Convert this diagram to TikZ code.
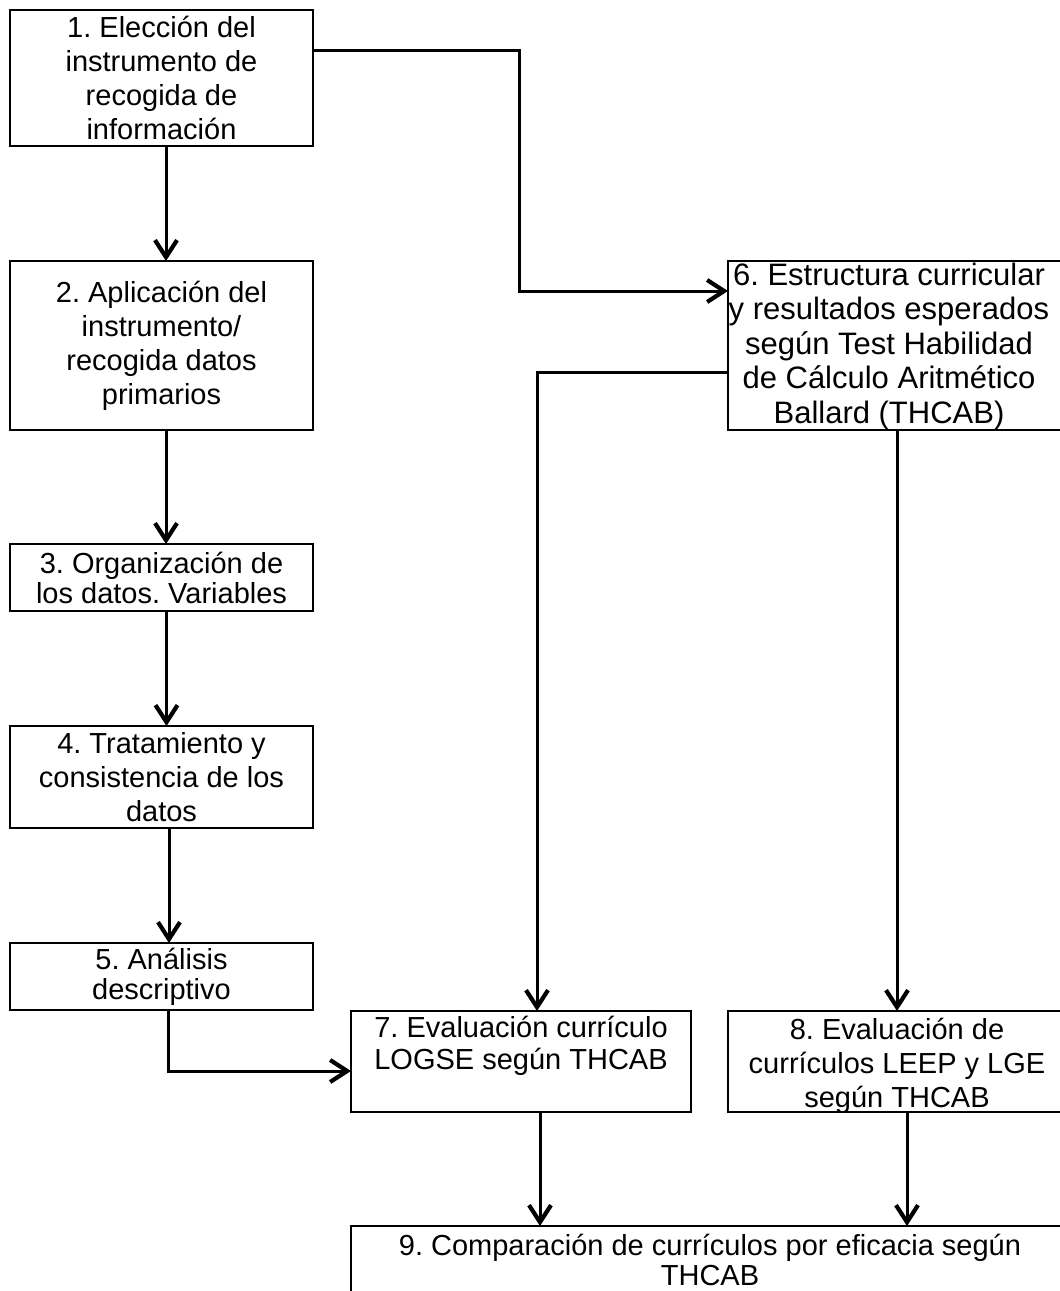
\documentclass[tikz,border=0pt]{standalone}
\usepackage{fontspec}
\setmainfont{Liberation Sans}
\usetikzlibrary{arrows.meta}
\begin{document}
\frenchspacing
\begin{tikzpicture}[x=1pt,y=-1pt,
  box/.style={draw=black,line width=1.3pt,inner sep=0pt,outer sep=0pt},
  txt/.style={inner sep=0pt,align=center,font=\fontsize{29}{34}\selectfont},
  conn/.style={line width=3pt,-{Straight Barb[length=17pt,width=22pt,line width=4.2pt]}}]
\useasboundingbox (0,0) rectangle (1060,1291);
\clip (0,0) rectangle (1060,1291);
% boxes
\node[box,minimum width=303pt,minimum height=136pt] (b1) at (161.5,78) {};
\node[box,minimum width=303pt,minimum height=169pt] (b2) at (161.5,345.5) {};
\node[box,minimum width=303pt,minimum height=67pt] (b3) at (161.5,577.5) {};
\node[box,minimum width=303pt,minimum height=102pt] (b4) at (161.5,777) {};
\node[box,minimum width=303pt,minimum height=67pt] (b5) at (161.5,976.5) {};
\node[box,minimum width=347pt,minimum height=169pt] (b6) at (901.5,345.5) {};
\node[box,minimum width=340pt,minimum height=101pt] (b7) at (521,1061.5) {};
\node[box,minimum width=347pt,minimum height=101pt] (b8) at (901.5,1061.5) {};
\node[box,minimum width=718pt,minimum height=114pt] (b9) at (710,1283) {};
% texts
\node[txt] (t1) at (b1.center) {1. Elección del\\instrumento de\\recogida de\\información};
\node[txt] (t2) at (b2.center) {2. Aplicación del\\instrumento/\\recogida datos\\primarios};
\node[txt,font=\fontsize{29}{30}\selectfont] (t3) at (b3.center) {3. Organización de\\los datos. Variables};
\node[txt] (t4) at (b4.center) {4. Tratamiento y\\consistencia de los\\datos};
\node[txt,font=\fontsize{29}{30}\selectfont] (t5) at (b5.center) {5. Análisis\\descriptivo};
\node[txt,font=\fontsize{31}{34.5}\selectfont] (t6) at (889,346) {6. Estructura curricular\\y resultados esperados\\según Test Habilidad\\de Cálculo Aritmético\\Ballard (THCAB)};
\node[txt,font=\fontsize{29}{32}\selectfont] (t7) at (521,1046) {7. Evaluación currículo\\LOGSE según THCAB};
\node[txt] (t8) at (897,1066) {8. Evaluación de\\currículos LEEP y LGE\\según THCAB};
\node[txt,font=\fontsize{29}{30}\selectfont] (t9) at (710,1260) {9. Comparación de currículos por eficacia según\\THCAB};
% connector helper points
\coordinate (c1) at (519,50);
\coordinate (c2) at (519,291);
\coordinate (c3) at (537,372);
\coordinate (c5) at (168,1071);
\coordinate (x68) at (897,700);
\coordinate (x79) at (540,1170);
\coordinate (x89) at (907,1170);
% connectors
\draw[conn] ([xshift=4.5pt]b1.south) -- ([xshift=4.5pt]b2.north);
\draw[conn] ([xshift=4.5pt]b2.south) -- ([xshift=4.5pt]b3.north);
\draw[conn] ([xshift=5pt]b3.south) -- ([xshift=5pt]b4.north);
\draw[conn] ([xshift=7.5pt]b4.south) -- ([xshift=7.5pt]b5.north);
\draw[conn] (b5.south -| c5) -- (c5) -- (b7.west |- c5);
\draw[conn] (b1.east |- c1) -- (c1) -- (c2) -- (b6.west |- c2);
\draw[conn] (b6.west |- c3) -- (c3) -- (c3 |- b7.north);
\draw[conn] (b6.south -| x68) -- (b8.north -| x68);
\draw[conn] (b7.south -| x79) -- (b9.north -| x79);
\draw[conn] (b8.south -| x89) -- (b9.north -| x89);
\end{tikzpicture}
\end{document}
